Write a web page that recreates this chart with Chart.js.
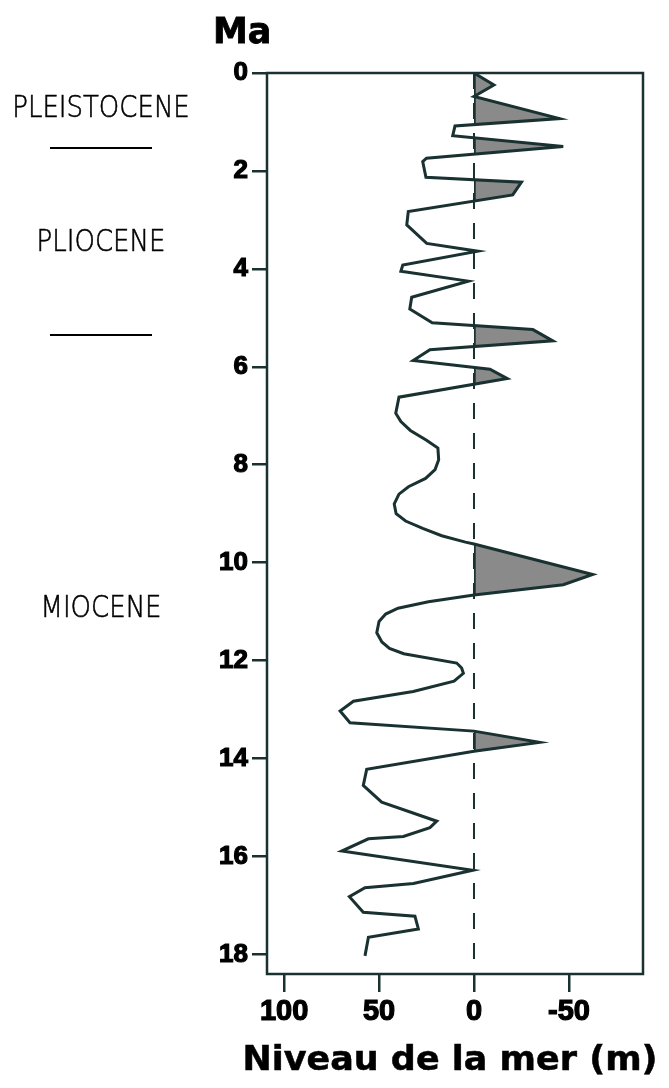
<!DOCTYPE html>
<html>
<head>
<meta charset="utf-8">
<script src="https://cdn.jsdelivr.net/npm/chart.js@4.4.1/dist/chart.umd.min.js"></script>
<style>
  html, body { margin: 0; padding: 0; background: #ffffff; }
  canvas { display: block; }
</style>
</head>
<body>
<canvas id="chart" width="669" height="1088"></canvas>
<script>
// Age of each sample (Ma, millions of years before present)
const ageMa = [
  0.00, 0.245, 0.48, 0.93, 1.08, 1.28, 1.50, 1.74, 1.81, 2.13,
  2.23, 2.49, 2.83, 3.10, 3.48, 3.64, 3.92, 4.05, 4.25, 4.58,
  4.82, 5.10, 5.24, 5.47, 5.65, 5.87, 6.05, 6.24, 6.62, 6.95,
  7.12, 7.30, 7.50, 7.66, 7.90, 8.10, 8.28, 8.45, 8.60, 8.80,
  9.00, 9.15, 9.30, 9.45, 9.58, 9.62, 10.24, 10.45, 10.66, 10.80,
  10.93, 11.05, 11.20, 11.43, 11.62, 11.75, 11.86, 12.05, 12.15, 12.26,
  12.42, 12.63, 12.83, 13.03, 13.27, 13.44, 13.67, 13.85, 14.22, 14.55,
  14.89, 15.28, 15.41, 15.59, 15.64, 15.89, 16.28, 16.55, 16.64, 16.82,
  17.14, 17.22, 17.48, 17.65, 18.03
];

// Sea level relative to present (m); negative values = higher than today
const seaLevel = [
  0, -10.5, 0, -45, 10, 11.2, -47, 25, 27, 25.3,
  -25, -20.4, 34.6, 35.4, 24.9, -2, 37.5, 38.5, 3, 32.8,
  33.8, 22, -31, -41.5, 23.2, 32, -8.4, -17.5, 39.5, 41.2,
  38.5, 33.5, 25, 19, 18.6, 20.5, 25.5, 34.5, 39.5, 42,
  41, 36, 27, 17, 4.5, 0, -62.5, -47, 0, 24,
  40, 46.5, 50, 51.2, 48.5, 44.5, 37, 9.1, 6.5, 5.6,
  10.5, 32, 63.5, 70.5, 65.3, 0, -34.5, 0, 56.5, 58.3,
  48.6, 19.6, 23.2, 37.2, 55.6, 69.6, 0.7, 31.9, 57.4, 65.6,
  58.3, 31.1, 29.3, 55.6, 57.4
];

// Axis ticks
const ageTicks = [0, 2, 4, 6, 8, 10, 12, 14, 16, 18];
const levelTicks = [100, 50, 0, -50];

// Epoch names and where they sit on the age axis
const epochNames = ['PLEISTOCENE', 'PLIOCENE', 'MIOCENE'];
const epochLabelAges = [0.73, 3.48, 10.96];
const epochBoundaryAges = [1.53, 5.35];

const ageUnit = 'Ma';
const levelTitle = 'Niveau de la mer (m)';

const ink = '#1a3131';
const shade = '#8a8a8a';

const decorations = {
  id: 'decorations',
  beforeDraw(chart) {
    const { ctx, width, height } = chart;
    ctx.save();
    ctx.fillStyle = '#ffffff';
    ctx.fillRect(0, 0, width, height);
    ctx.restore();
  },
  beforeDatasetsDraw(chart) {
    const { ctx, chartArea: a, scales } = chart;
    const x0 = scales.x.getPixelForValue(0);
    const pts = chart.getDatasetMeta(0).data;

    // dashed present-day sea level
    ctx.save();
    ctx.strokeStyle = ink;
    ctx.lineWidth = 2;
    ctx.setLineDash([16, 14]);
    ctx.beginPath();
    ctx.moveTo(x0, a.top);
    ctx.lineTo(x0, a.bottom);
    ctx.stroke();
    ctx.restore();

    // shaded highstands (curve right of the zero line)
    ctx.save();
    ctx.beginPath();
    ctx.rect(x0, a.top, a.right - x0, a.bottom - a.top);
    ctx.clip();
    ctx.beginPath();
    ctx.moveTo(x0, pts[0].y);
    pts.forEach(p => ctx.lineTo(p.x, p.y));
    ctx.lineTo(x0, pts[pts.length - 1].y);
    ctx.closePath();
    ctx.fillStyle = shade;
    ctx.fill();
    ctx.clip();
    ctx.beginPath();
    ctx.moveTo(x0, a.top);
    ctx.lineTo(x0, a.bottom);
    ctx.strokeStyle = ink;
    ctx.lineWidth = 3.5;
    ctx.setLineDash([]);
    ctx.stroke();
    ctx.restore();
  },
  afterDraw(chart) {
    const { ctx, chartArea: a, scales } = chart;

    // plot frame
    ctx.save();
    ctx.strokeStyle = ink;
    ctx.lineWidth = 2.5;
    ctx.strokeRect(a.left, a.top, a.right - a.left, a.bottom - a.top);
    ctx.restore();

    // unit of the age axis
    ctx.save();
    ctx.fillStyle = '#000';
    ctx.strokeStyle = '#000';
    ctx.lineWidth = 0.8;
    ctx.font = 'bold 35px "DejaVu Sans"';
    ctx.textAlign = 'left';
    ctx.textBaseline = 'alphabetic';
    ctx.fillText(ageUnit, 213, 43);
    ctx.strokeText(ageUnit, 213, 43);
    ctx.restore();

    // title of the sea-level axis
    ctx.save();
    ctx.fillStyle = '#000';
    ctx.strokeStyle = '#000';
    ctx.lineWidth = 0.5;
    ctx.font = 'bold 33px "DejaVu Sans"';
    ctx.textAlign = 'center';
    ctx.textBaseline = 'alphabetic';
    ctx.translate(450, 1070);
    ctx.scale(1.06, 1);
    ctx.fillText(levelTitle, 0, 0);
    ctx.strokeText(levelTitle, 0, 0);
    ctx.restore();

    // epochs
    ctx.save();
    ctx.fillStyle = '#000';
    ctx.strokeStyle = '#000';
    ctx.lineWidth = 0.5;
    ctx.font = '200 26px "DejaVu Sans"';
    ctx.textAlign = 'center';
    ctx.textBaseline = 'middle';
    epochNames.forEach((name, i) => {
      const y = scales.y.getPixelForValue(epochLabelAges[i]);
      ctx.save();
      ctx.translate(101, y);
      ctx.scale(1, 1.15);
      ctx.fillText(name, 0, 0);
      ctx.strokeText(name, 0, 0);
      ctx.restore();
    });
    ctx.lineWidth = 2;
    epochBoundaryAges.forEach(age => {
      const y = Math.round(scales.y.getPixelForValue(age));
      ctx.beginPath();
      ctx.moveTo(50, y);
      ctx.lineTo(152, y);
      ctx.stroke();
    });
    ctx.restore();
  }
};

new Chart(document.getElementById('chart'), {
  type: 'line',
  data: {
    datasets: [{
      data: ageMa.map((age, i) => ({ x: seaLevel[i], y: age })),
      borderColor: ink,
      borderWidth: 3,
      pointRadius: 0,
      fill: false,
      tension: 0
    }]
  },
  options: {
    indexAxis: 'y',
    responsive: false,
    animation: false,
    devicePixelRatio: 1,
    layout: { padding: { left: 0, top: 73, right: 26, bottom: 0 } },
    plugins: {
      legend: { display: false },
      tooltip: { enabled: false }
    },
    scales: {
      y: {
        type: 'linear',
        reverse: true,
        min: 0,
        max: 18.4,
        afterBuildTicks: s => { s.ticks = ageTicks.map(v => ({ value: v })); },
        afterFit: s => { s.width = 267; },
        border: { display: false },
        grid: { drawOnChartArea: false, drawTicks: true, tickLength: 15, color: ink, lineWidth: 2.5 },
        ticks: {
          color: '#000',
          padding: 4,
          textStrokeColor: '#000',
          textStrokeWidth: 1.2,
          font: { family: '"Liberation Sans", Arial, sans-serif', weight: 'bold', size: 26 }
        }
      },
      x: {
        type: 'linear',
        reverse: true,
        min: -89,
        max: 109,
        afterBuildTicks: s => { s.ticks = levelTicks.map(v => ({ value: v })); },
        afterFit: s => { s.height = 114; },
        border: { display: false },
        grid: { drawOnChartArea: false, drawTicks: true, tickLength: 18, color: ink, lineWidth: 2.5 },
        ticks: {
          color: '#000',
          padding: 3,
          maxRotation: 0,
          textStrokeColor: '#000',
          textStrokeWidth: 1.2,
          font: { family: '"Liberation Sans", Arial, sans-serif', weight: 'bold', size: 29 }
        }
      }
    }
  },
  plugins: [decorations]
});
</script>
</body>
</html>
